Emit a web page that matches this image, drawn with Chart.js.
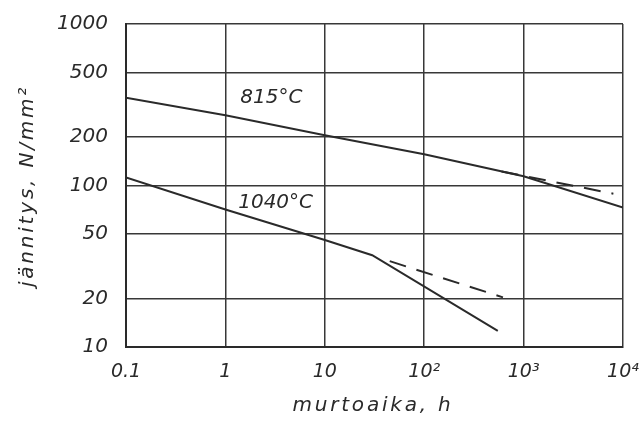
<!DOCTYPE html>
<html>
<head>
<meta charset="utf-8">
<script src="https://cdn.jsdelivr.net/npm/chart.js@4.4.1/dist/chart.umd.min.js"></script>
<style>
  html, body { margin: 0; padding: 0; background: #fff; }
  canvas { display: block; }
</style>
</head>
<body>
<canvas id="creepChart" width="644" height="421"></canvas>
<script>
// murtoaika (h) vs jännitys (N/mm2)
const hours815 = [0.1, 1, 10, 100, 1000, 10000];
const stress815 = [350, 272, 205, 156, 114, 73];
const hours815Ext = [600, 8000];
const stress815Ext = [122, 89];

const hours1040 = [0.1, 1, 10, 30, 550];
const stress1040 = [112, 71, 46, 37, 12.6];
const hours1040Ext = [45, 620];
const stress1040Ext = [34, 20.3];

const xTicks = [0.1, 1, 10, 100, 1000, 10000];
const xTickLabels = ['0.1', '1', '10', '10²', '10³', '10⁴'];
const yTicks = [10, 20, 50, 100, 200, 500, 1000];

const curveLabels = [
  { text: '815°C', x: 2.9, y: 350 },
  { text: '1040°C', x: 3.2, y: 78.5 }
];

const ink = '#2a2a2a';
const gridInk = '#383838';
const font = '"DejaVu Sans", sans-serif';

const toPoints = (xs, ys) => xs.map((x, i) => ({ x, y: ys[i] }));

const lineSet = (xs, ys, dashed) => ({
  data: toPoints(xs, ys),
  borderColor: ink,
  borderWidth: 2,
  borderDash: dashed ? [17, 11] : [],
  pointRadius: 0,
  tension: 0,
  fill: false
});

const textPlugin = {
  id: 'textPlugin',
  afterDraw(chart) {
    const { ctx, scales } = chart;
    ctx.save();
    ctx.fillStyle = ink;
    ctx.font = 'italic 20px ' + font;
    ctx.textAlign = 'center';
    ctx.textBaseline = 'middle';

    curveLabels.forEach(l => {
      ctx.fillText(l.text, scales.x.getPixelForValue(l.x), scales.y.getPixelForValue(l.y));
    });

    ctx.letterSpacing = '2.8px';
    // x axis title
    ctx.fillText('murtoaika, h', 373, 406);
    // y axis title
    ctx.translate(28, 186);
    ctx.rotate(-Math.PI / 2);
    ctx.fillText('jännitys, N/mm²', 0, 0);
    ctx.restore();
  }
};

new Chart(document.getElementById('creepChart'), {
  type: 'line',
  data: {
    datasets: [
      lineSet(hours815, stress815, false),
      lineSet(hours815Ext, stress815Ext, true),
      lineSet(hours1040, stress1040, false),
      lineSet(hours1040Ext, stress1040Ext, true)
    ]
  },
  options: {
    responsive: false,
    animation: false,
    devicePixelRatio: 1,
    layout: { padding: { left: 0, right: 21, top: 24, bottom: 0 } },
    plugins: {
      legend: { display: false },
      tooltip: { enabled: false }
    },
    scales: {
      x: {
        type: 'logarithmic',
        min: 0.1,
        max: 10000,
        afterBuildTicks: scale => { scale.ticks = xTicks.map(v => ({ value: v })); },
        afterFit: scale => {
          scale.height = 74;
          scale.paddingLeft = 0;
          scale.paddingRight = 0;
        },
        ticks: {
          padding: 14,
          maxRotation: 0,
          autoSkip: false,
          color: ink,
          font: { family: font, size: 19, style: 'italic' },
          callback: (v) => xTickLabels[xTicks.indexOf(v)] ?? ''
        },
        grid: { color: gridInk, lineWidth: 1.5, drawTicks: false },
        border: { color: ink, width: 2 }
      },
      y: {
        type: 'logarithmic',
        min: 10,
        max: 1000,
        afterBuildTicks: scale => { scale.ticks = yTicks.map(v => ({ value: v })); },
        afterFit: scale => {
          scale.width = 126;
          scale.paddingTop = 0;
          scale.paddingBottom = 0;
        },
        ticks: {
          padding: 18,
          autoSkip: false,
          color: ink,
          font: { family: font, size: 20, style: 'italic' },
          callback: (v) => String(v)
        },
        grid: { color: gridInk, lineWidth: 1.5, drawTicks: false },
        border: { color: ink, width: 2 }
      }
    }
  },
  plugins: [textPlugin]
});
</script>
</body>
</html>
